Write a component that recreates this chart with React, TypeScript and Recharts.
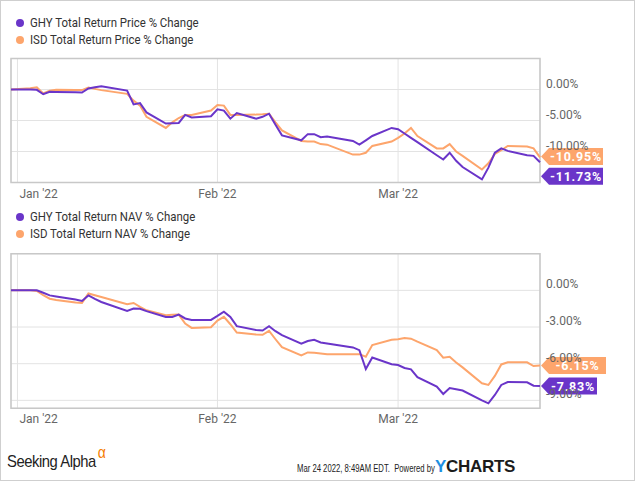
import { LineChart, Line, XAxis, YAxis, CartesianGrid, ReferenceArea, ReferenceDot } from 'recharts';

const tradingDays = [
  '2021-12-31',
  '2022-01-03', '2022-01-04', '2022-01-05', '2022-01-06', '2022-01-07',
  '2022-01-10', '2022-01-11', '2022-01-12', '2022-01-13', '2022-01-14',
  '2022-01-18', '2022-01-19', '2022-01-20', '2022-01-21',
  '2022-01-24', '2022-01-25', '2022-01-26', '2022-01-27', '2022-01-28',
  '2022-01-31', '2022-02-01', '2022-02-02', '2022-02-03', '2022-02-04',
  '2022-02-07', '2022-02-08', '2022-02-09', '2022-02-10', '2022-02-11',
  '2022-02-14', '2022-02-15', '2022-02-16', '2022-02-17', '2022-02-18',
  '2022-02-22', '2022-02-23', '2022-02-24', '2022-02-25',
  '2022-02-28', '2022-03-01', '2022-03-02', '2022-03-03', '2022-03-04',
  '2022-03-07', '2022-03-08', '2022-03-09', '2022-03-10', '2022-03-11',
  '2022-03-14', '2022-03-15', '2022-03-16', '2022-03-17', '2022-03-18',
  '2022-03-21', '2022-03-22', '2022-03-23',
];

const ghyPrice = [
  0,
  -0.02, -0.05, -0.76, -0.38, -0.4,
  -0.45, -0.5, 0.16, 0.35, 0.53,
  -0.17, -2.4, -2.2, -3.7,
  -5.5, -5.45, -5.4, -4.1, -4.5,
  -4.3, -3.2, -3.4, -4.7, -3.8,
  -4.7, -4.4, -3.9, -5.7, -7.4,
  -8.2, -7.2, -7.2, -7.7, -7.6,
  -8.3, -8.9, -8.2, -7.5,
  -6.2, -6.4, -7.1, -7.8, -8.5,
  -10.6, -11.3, -10.2, -11.5, -12.5,
  -14.5, -12.6, -10.2, -9.5, -9.9,
  -10.6, -10.7, -11.73,
];

const isdPrice = [
  0,
  0.2, 0.37, -0.65, -0.2, -0.06,
  -0.1, -0.1, 0.3, 0.1, -0.1,
  -0.7, -1.8, -2.6, -4.4,
  -6.2, -5.3, -4.6, -4.1, -4.1,
  -3.4, -2.5, -2.6, -4.1, -4.1,
  -4.05, -4.0, -3.9, -5.3, -6.6,
  -8.3, -8.4, -8.4, -8.8, -8.9,
  -10.5, -10.5, -10.2, -9.1,
  -8.4, -7.8, -7.1, -6.2, -7.5,
  -9.5, -9.5, -8.8, -10.0, -10.7,
  -12.9, -11.9, -10.4, -9.8, -9.1,
  -9.2, -9.5, -10.95,
];

const ghyNav = [
  0,
  0, 0, -0.2, -0.41, -0.5,
  -0.75, -0.87, -0.41, -0.7, -0.95,
  -1.68, -1.49, -1.5, -1.7,
  -2.17, -2.17, -1.98, -2.3, -2.42,
  -2.42, -2.09, -1.74, -2.17, -2.93,
  -3.25, -3.29, -2.93, -3.34, -3.67,
  -4.37, -4.15, -4.05, -4.26, -4.35,
  -4.67, -4.89, -6.44, -5.49,
  -6.05, -6.11, -6.35, -6.46, -7.1,
  -7.88, -8.48, -8.0, -8.1, -8.2,
  -9.0, -9.24, -8.56, -7.74, -7.5,
  -7.52, -7.8, -7.83,
];

const isdNav = [
  0,
  0, -0.05, -0.4, -0.68, -0.78,
  -1.0, -1.03, -0.25, -0.4, -0.54,
  -1.14, -1.03, -1.35, -1.63,
  -2.04, -2.0, -1.98, -2.72, -3.07,
  -3.02, -2.47, -2.17, -2.77, -3.45,
  -3.62, -3.64, -3.32, -4.0, -4.65,
  -5.32, -5.08, -5.1, -5.16, -5.22,
  -5.22, -5.22, -5.43, -4.48,
  -4.05, -4.0, -3.9, -3.95, -4.2,
  -4.89, -5.51, -5.43, -5.9, -6.3,
  -7.6, -7.74, -7.0, -6.06, -5.89,
  -5.89, -6.19, -6.15,
];

const monthTicks = ['2022-01-01', '2022-02-01', '2022-03-01'];
const monthLabels = ["Jan '22", "Feb '22", "Mar '22"];

const priceLegend = ['GHY Total Return Price % Change', 'ISD Total Return Price % Change'];
const navLegend = ['GHY Total Return NAV % Change', 'ISD Total Return NAV % Change'];

const priceTicks = [0, -5, -10];
const navTicks = [0, -3, -6, -9];

const PURPLE = '#6a35c9';
const ORANGE = '#fda56c';
const FONT = 'Roboto, sans-serif';

const toDay = (d: string) =>
  (Date.UTC(+d.slice(0, 4), +d.slice(5, 7) - 1, +d.slice(8, 10)) - Date.UTC(2022, 0, 1)) / 86400000;

const buildRows = (a: number[], b: number[]) =>
  tradingDays.map((d, i) => ({ day: toDay(d), ghy: a[i], isd: b[i] }));

const xTicks = monthTicks.map(toDay);
const firstDay = toDay(tradingDays[0]);
const lastDay = toDay(tradingDays[tradingDays.length - 1]);

const XTick = (props: any) => {
  const { x, y, payload, index } = props;
  return (
    <text x={index === 0 ? x + 2 : x} y={y + 13} textAnchor={index === 0 ? 'start' : 'middle'}
      fontSize={12} fontFamily={FONT} fill="#666">
      {monthLabels[xTicks.indexOf(payload.value)]}
    </text>
  );
};

const YTick = (props: any) => {
  const { x, y, payload } = props;
  return (
    <text x={x + 4} y={y - 2} fontSize={12} fontFamily={FONT} fill="#666">
      {payload.value.toFixed(2) + '%'}
    </text>
  );
};

const valueTag = (color: string, value: number, w: number, shift: number) => (props: any) => {
  const { cx, cy } = props;
  const tx = cx + 1;
  const ty = cy + shift;
  const h = 8.5;
  return (
    <g>
      <polygon
        points={`${tx},${ty} ${tx + 8},${ty - h} ${tx + w},${ty - h} ${tx + w},${ty + h} ${tx + 8},${ty + h}`}
        fill={color}
      />
      <text x={tx + 8 + (w - 8) / 2} y={ty + 4.5} textAnchor="middle" fontSize={12.5} fontWeight="bold"
        fontFamily={FONT} fill="#fff" letterSpacing={0.8}>
        {value.toFixed(2) + '%'}
      </text>
    </g>
  );
};

const Legend = ({ labels, top }: { labels: string[]; top: number }) => (
  <div style={{ position: 'absolute', left: 16, top, fontFamily: FONT, fontSize: 13, color: '#333' }}>
    {labels.map((l, i) => (
      <div key={l} style={{ display: 'flex', alignItems: 'center', height: 17 }}>
        <span style={{ width: 8, height: 8, borderRadius: 4, background: i === 0 ? PURPLE : ORANGE, marginRight: 6 }} />
        <span style={{ transform: 'scaleX(0.88)', transformOrigin: 'left center', whiteSpace: 'nowrap' }}>{l}</span>
      </div>
    ))}
  </div>
);

type PanelProps = {
  top: number;
  height: number;
  marginTop: number;
  plotHeight: number;
  a: number[];
  b: number[];
  domain: [number, number];
  ticks: number[];
  tagWidths: [number, number];
  tagShifts: [number, number];
};

const Panel = ({ top, height, marginTop, plotHeight, a, b, domain, ticks, tagWidths, tagShifts }: PanelProps) => {
  const rows = buildRows(a, b);
  const lastA = a[a.length - 1];
  const lastB = b[b.length - 1];
  return (
    <div style={{ position: 'absolute', left: 0, top }}>
      <LineChart width={635} height={height} data={rows}
        margin={{ top: marginTop, right: 0, bottom: 0, left: 11 }}>
        <CartesianGrid stroke="#e3e3e3" strokeWidth={1} />
        <XAxis dataKey="day" type="number" domain={[firstDay, lastDay]} ticks={xTicks}
          axisLine={false} tickLine={false} tickSize={0} tick={<XTick />}
          height={height - marginTop - plotHeight} interval={0} />
        <YAxis orientation="right" type="number" domain={domain} ticks={ticks} allowDataOverflow
          axisLine={false} tickLine={false} tickSize={0} tick={<YTick />} width={95} interval={0} />
        <ReferenceArea x1={firstDay} x2={lastDay} y1={domain[0]} y2={domain[1]}
          fill="none" stroke="#c8c8c8" strokeWidth={1.5} />
        <Line dataKey="isd" stroke={ORANGE} strokeWidth={2} dot={false} isAnimationActive={false} />
        <Line dataKey="ghy" stroke={PURPLE} strokeWidth={2} dot={false} isAnimationActive={false} />
        <ReferenceDot x={lastDay} y={lastB} r={0} ifOverflow="visible"
          shape={valueTag(ORANGE, lastB, tagWidths[1], tagShifts[1])} />
        <ReferenceDot x={lastDay} y={lastA} r={0} ifOverflow="visible"
          shape={valueTag(PURPLE, lastA, tagWidths[0], tagShifts[0])} />
      </LineChart>
    </div>
  );
};

export default function App() {
  return (
    <div style={{ position: 'absolute', left: 0, top: 0, width: 635, height: 481, background: '#fff', overflow: 'hidden' }}>
      <Legend labels={priceLegend} top={14} />
      <Panel top={0} height={205} marginTop={58.5} plotHeight={124} a={ghyPrice} b={isdPrice}
        domain={[-15, 5]} ticks={priceTicks} tagWidths={[62, 62]} tagShifts={[14, -1]} />
      <Legend labels={navLegend} top={208} />
      <Panel top={200} height={230} marginTop={53.7} plotHeight={154.6} a={ghyNav} b={isdNav}
        domain={[-9.65, 3]} ticks={navTicks} tagWidths={[56, 65]} tagShifts={[0, 0]} />
      <div style={{ position: 'absolute', left: 7, top: 452, whiteSpace: 'nowrap', transform: 'scaleX(0.87)', transformOrigin: 'left top',
        fontFamily: 'Liberation Sans, Arial, sans-serif', fontSize: 17, color: '#222', letterSpacing: -0.5 }}>
        Seeking Alpha<span style={{ color: '#f57c00', fontSize: 16, position: 'relative', top: -9, marginLeft: 2 }}>α</span>
      </div>
      <div style={{ position: 'absolute', left: 297, top: 462, whiteSpace: 'nowrap', transform: 'scaleX(0.7)', transformOrigin: 'left top',
        fontFamily: '"Liberation Sans", Arial, sans-serif', fontSize: 11, color: '#222' }}>
        Mar 24 2022, 8:49AM EDT.&nbsp; Powered by
      </div>
      <div style={{ position: 'absolute', left: 435, top: 457, whiteSpace: 'nowrap', fontFamily: '"Liberation Sans", Arial, sans-serif', fontWeight: 'bold', fontSize: 17, letterSpacing: -0.3 }}>
        <span style={{ color: '#1e8fe1' }}>Y</span><span style={{ color: '#1b1b1b' }}>CHARTS</span>
      </div>
      <div style={{ position: 'absolute', left: 0, top: 0, width: 635, height: 481, boxSizing: 'border-box', border: '1px solid #cfcfcf', pointerEvents: 'none' }} />
    </div>
  );
}
